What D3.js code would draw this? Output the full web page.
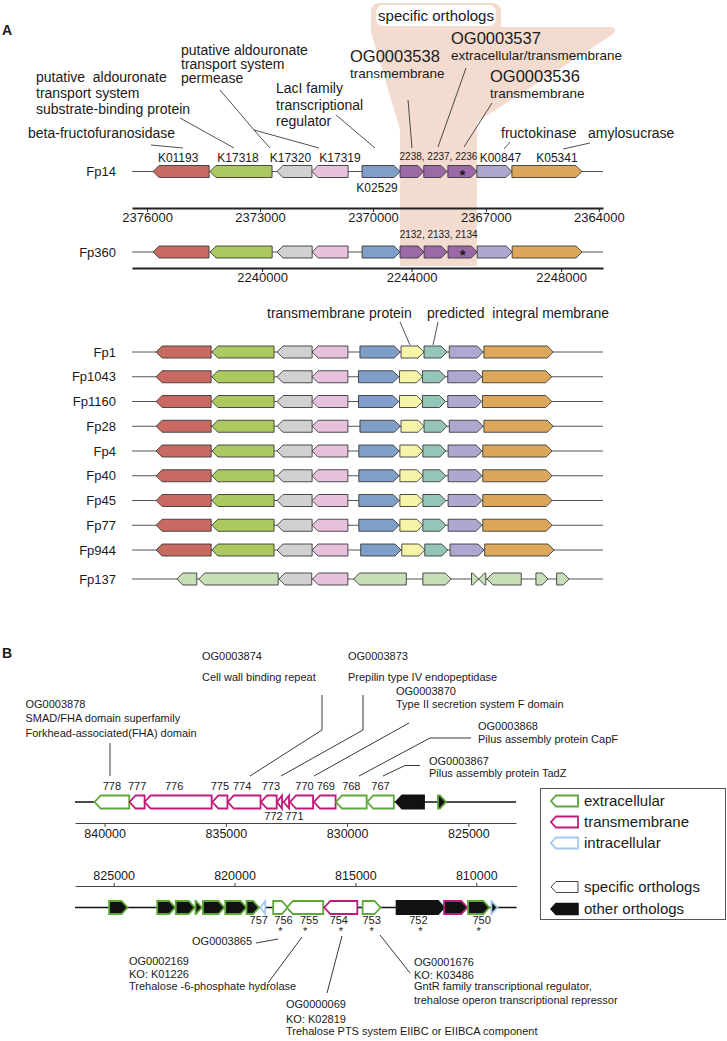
<!DOCTYPE html>
<html>
<head>
<meta charset="utf-8">
<title>Gene neighbourhoods</title>
<script src="https://d3js.org/d3.v7.min.js"></script>
<style>
  body { margin: 0; background: #fff; }
  svg text { font-family: "Liberation Sans", Arial, Helvetica, sans-serif; fill: #1a1a1a; }
</style>
</head>
<body>
<div id="chart"></div>
<script>
// ---------------- Panel A data ----------------
// conserved cluster, left to right on screen; dir -1 = arrow points left
const familiesA = ["K01193", "K17318", "K17320", "K17319", "K02529", "OG0003538", "OG0003537", "OG0003536", "K00847", "K05341"];
const dirA = [-1, -1, -1, -1, 1, 1, 1, 1, 1, 1];

const fp14Extent = [2376400, 2363890];
const fp14Ticks = [2376000, 2373000, 2370000, 2367000, 2364000];
const fp14Start = [2375840, 2374330, 2372550, 2371620, 2370290, 2369280, 2368650, 2368010, 2367240, 2366310];
const fp14End   = [2374350, 2372680, 2371620, 2370660, 2369280, 2368650, 2368035, 2367240, 2366310, 2364450];
const fp14Ids   = ["2238", "2237", "2236"];

const fp360Extent = [2236520, 2249120];
const fp360Ticks = [2240000, 2244000, 2248000];
const fp360Start = [2237085, 2238610, 2240400, 2241340, 2242675, 2243690, 2244335, 2244975, 2245755, 2246690];
const fp360End   = [2238580, 2240270, 2241340, 2242300, 2243690, 2244335, 2244950, 2245755, 2246690, 2248560];
const fp360Ids   = ["2132", "2133", "2134"];

// other strains, relative position in kb (no axis drawn)
const strainsA = ["Fp1", "Fp1043", "Fp1160", "Fp28", "Fp4", "Fp40", "Fp45", "Fp77", "Fp944"];
const familiesC = ["K01193", "K17318", "K17320", "K17319", "K02529", "TMP", "PIM", "K00847", "K05341"];
const dirC = [-1, -1, -1, -1, 1, 1, 1, 1, 1];
const clusterStartKb = [0.64, 2.12, 3.85, 4.78, 6.05, 7.14, 7.75, 8.42, 9.34];
const clusterEndKb   = [2.10, 3.77, 4.78, 5.73, 7.12, 7.75, 8.36, 9.32, 11.18];
const rightShiftKb   = [0, -0.04, -0.04, 0, -0.03, -0.03, -0.03, -0.03, 0.02];

const fp137Families = ["other", "other", "K17320", "K17319", "other", "other", "other", "other", "other", "other", "other"];
const fp137Dir      = [-1, -1, -1, -1, -1, 1, 1, -1, -1, 1, 1];
const fp137StartKb  = [1.19, 1.77, 3.90, 4.79, 5.88, 7.72, 9.01, 9.20, 9.42, 10.72, 11.27];
const fp137EndKb    = [1.72, 3.88, 4.77, 5.73, 7.28, 8.47, 9.20, 9.39, 10.33, 11.04, 11.60];

// ---------------- Panel B data ----------------
const b1Extent = [841220, 823037];
const b1Ticks = [840000, 835000, 830000, 825000];
const b1Ids   = ["778", "777", "776", "775", "774", "773", "772", "771", "770", "769", "768", "767", "", ""];
const b1Start = [840410, 838970, 838350, 835555, 834920, 833550, 832890, 832610, 832355, 831365, 830460, 829170, 827985, 826255];
const b1End   = [838985, 838350, 835585, 834935, 833570, 832905, 832685, 832395, 831405, 830475, 829195, 828075, 826830, 825925];
const b1Dir   = [-1, -1, -1, -1, -1, -1, -1, -1, -1, -1, -1, -1, -1, 1];
const b1Loc   = ["extra", "trans", "trans", "trans", "trans", "trans", "trans", "trans", "trans", "trans", "extra", "extra", "none", "extra"];
const b1Orth  = ["specific", "specific", "specific", "specific", "specific", "specific", "specific", "specific", "specific", "specific", "specific", "specific", "other", "other"];

const b2Extent = [826600, 808330];
const b2Ticks = [825000, 820000, 815000, 810000];
const b2Ids   = ["", "", "", "", "", "", "", "757", "756", "755", "754", "753", "752", "", "750", ""];
const b2Start = [825190, 823200, 822430, 821615, 821305, 820385, 819505, 818935, 818400, 817830, 816285, 814700, 813295, 811330, 810340, 809375];
const b2End   = [824425, 822455, 821645, 821350, 820420, 819505, 818985, 818730, 817800, 816330, 814920, 813960, 811330, 810370, 809460, 809125];
const b2Dir   = [1, 1, 1, 1, 1, 1, 1, -1, 1, -1, -1, 1, 1, 1, 1, 1];
const b2Loc   = ["extra", "extra", "extra", "extra", "extra", "extra", "extra", "intra", "extra", "extra", "trans", "extra", "none", "trans", "extra", "intra"];
const b2Orth  = ["other", "other", "other", "other", "other", "other", "other", "specific", "specific", "specific", "specific", "specific", "other", "other", "other", "other"];
const b2Star  = [0, 0, 0, 0, 0, 0, 0, 0, 1, 1, 1, 1, 1, 0, 1, 0];

const legendLoc = ["extracellular", "transmembrane", "intracellular"];
const legendOrth = ["specific orthologs", "other orthologs"];

// ---------------- colours ----------------
const colorA = d3.scaleOrdinal()
    .domain(["K01193", "K17318", "K17320", "K17319", "K02529", "OG0003538", "OG0003537", "OG0003536", "K00847", "K05341", "TMP", "PIM", "other"])
    .range(["#c96a62", "#abc95f", "#d1d1d1", "#e6c0dd", "#7f9ec8", "#9b69a6", "#9b69a6", "#9b69a6", "#aea8d0", "#dda75b", "#f6f4a8", "#95c4b8", "#c7dfb6"]);
const locColor = d3.scaleOrdinal()
    .domain(["extra", "trans", "intra", "none"])
    .range(["#5ea83a", "#c2187a", "#a6c8ee", "#111111"]);

// ---------------- canvas ----------------
const svg = d3.select("#chart").append("svg")
    .attr("width", 727)
    .attr("height", 1041);

function genePath(xa, xb, dir, yc, h, head) {
    const x0 = Math.min(xa, xb), x1 = Math.max(xa, xb);
    const hl = Math.min(head, x1 - x0);
    const t = yc - h / 2, b = yc + h / 2;
    if (dir > 0) return `M${x0},${t}L${x1 - hl},${t}L${x1},${yc}L${x1 - hl},${b}L${x0},${b}Z`;
    return `M${x1},${t}L${x0 + hl},${t}L${x0},${yc}L${x0 + hl},${b}L${x1},${b}Z`;
}

function addText(g, str, x, y, size, anchor) {
    return g.append("text")
        .attr("x", x).attr("y", y)
        .attr("font-size", size)
        .attr("text-anchor", anchor || "start")
        .style("white-space", "pre")
        .text(str);
}

function leader(g, pts, w) {
    g.append("path")
        .attr("d", d3.line()(pts))
        .attr("fill", "none")
        .attr("stroke", "#222")
        .attr("stroke-width", w || 0.8);
}

// ================= PANEL A =================
const xFp14 = d3.scaleLinear().domain(fp14Extent).range([132, 603]);
const xFp360 = d3.scaleLinear().domain(fp360Extent).range([132, 603]);
const xKb = d3.scaleLinear().domain([0, 12.5]).range([132, 603]);
const fp14Y = 171.5, fp360Y = 252;
const rowY = d3.scalePoint().domain(strainsA).range([352, 550]);
const fp137Y = 579;
const geneH = 12, headA = 6;

const gA = svg.append("g");

// highlighted "specific orthologs" region
const bandL = xFp14(fp14Start[5]), bandR = xFp14(fp14End[7]);
gA.append("path")
    .attr("d", `M371,12Q371,3 380,3L492,3Q501,3 501,12L501,27L608,27Q620,27 612,35L${bandR},122L${bandR},266L${bandL},266L${bandL},130L371,32Z`)
    .attr("fill", "#f3dccf");
gA.append("rect")
    .attr("x", 376).attr("y", 5).attr("width", 120).attr("height", 21)
    .attr("rx", 7).attr("fill", "#fff");
addText(gA, "specific orthologs", 436, 21, 15, "middle");

addText(gA, "A", 2, 35, 14).attr("font-weight", "bold");

// descriptive annotations for Fp14
const notesA = [
    { lines: ["beta-fructofuranosidase"], x: 28, ys: [138], size: 14, paths: [[[151, 145], [183, 148]]] },
    { lines: ["putative  aldouronate", "transport system", "substrate-binding protein"], x: 36, ys: [82, 98, 114], size: 14, paths: [[[180, 118], [234, 148]]] },
    { lines: ["putative aldouronate", "transport system", "permease"], x: 181, ys: [55, 69, 83], size: 14, paths: [[[220, 90], [254, 130], [270, 148]], [[254, 130], [319, 148]]] },
    { lines: ["LacI family", "transcriptional", "regulator"], x: 276, ys: [93, 110, 126], size: 14, paths: [[[336, 115], [375, 148]]] },
    { lines: ["fructokinase"], x: 501, ys: [138], size: 14, paths: [[[510, 142], [504, 149]]] },
    { lines: ["amylosucrase"], x: 588, ys: [138], size: 14, paths: [[[590, 143], [563, 149]]] },
    { lines: ["extracellular/transmembrane"], x: 451, ys: [60], size: 13.5, paths: [[[466, 68], [438, 147]]] },
    { lines: ["transmembrane"], x: 350, ys: [78], size: 13.5, paths: [[[408, 100], [412, 148]]] },
    { lines: ["transmembrane"], x: 490, ys: [98], size: 13.5, paths: [[[492, 103], [464, 147]]] }
];
notesA.forEach(n => {
    n.lines.forEach((l, i) => addText(gA, l, n.x, n.ys[i], n.size));
    n.paths.forEach(p => leader(gA, p));
});
addText(gA, "OG0003537", 451, 44, 16.5);
addText(gA, "OG0003538", 350, 62, 16.5);
addText(gA, "OG0003536", 490, 82, 16.5);

// Fp14 K numbers (label nudges avoid overlaps)
const tagNudge = [-3, -3, -4, 10, -4, 0, 0, 0, 6, 10];
[0, 1, 2, 3, 8, 9].forEach(i => {
    const cx = (xFp14(fp14Start[i]) + xFp14(fp14End[i])) / 2 + tagNudge[i];
    addText(gA, familiesA[i], cx, 162, 12, "middle");
});
addText(gA, familiesA[4], (xFp14(fp14Start[4]) + xFp14(fp14End[4])) / 2 + tagNudge[4], 192, 12, "middle");

const ogMid14 = (xFp14(fp14Start[5]) + xFp14(fp14End[7])) / 2;
addText(gA, fp14Ids.join(", "), ogMid14, 160, 10, "middle");
const ogMid360 = (xFp360(fp360Start[5]) + xFp360(fp360End[7])) / 2;
addText(gA, fp360Ids.join(", "), ogMid360, 238, 10, "middle");

function drawRow(g, label, y, xs, x0s, x1s, dirs, fams, span) {
    addText(g, label, 116, y + 4.5, 13, "end");
    g.append("line")
        .attr("x1", span[0]).attr("x2", span[1])
        .attr("y1", y).attr("y2", y)
        .attr("stroke", "#555").attr("stroke-width", 1);
    g.append("g").selectAll("path")
        .data(x0s.map((s, i) => ({ s: s, e: x1s[i], dir: dirs[i], fam: fams[i] })))
        .enter().append("path")
        .attr("d", d => genePath(xs(d.s), xs(d.e), d.dir, y, geneH, headA))
        .attr("fill", d => colorA(d.fam))
        .attr("stroke", "#3a3a3a")
        .attr("stroke-width", 0.9)
        .attr("stroke-linejoin", "round");
}

function drawAxisA(g, scale, ticks, y) {
    const ax = g.append("g")
        .attr("transform", `translate(0,${y})`)
        .call(d3.axisBottom(scale).tickValues(ticks).tickFormat(d3.format("d")).tickSize(4).tickSizeOuter(0));
    ax.select(".domain").attr("stroke", "#222").attr("stroke-width", 1.8);
    ax.selectAll(".tick line").attr("stroke", "#222");
    ax.selectAll(".tick text")
        .attr("y", 5)
        .attr("font-size", 13)
        .attr("font-family", "Liberation Sans, Arial, sans-serif")
        .attr("fill", "#1a1a1a");
}

drawRow(gA, "Fp14", fp14Y, xFp14, fp14Start, fp14End, dirA, familiesA, xFp14.range());
drawAxisA(gA, xFp14, fp14Ticks, 208);
drawRow(gA, "Fp360", fp360Y, xFp360, fp360Start, fp360End, dirA, familiesA, xFp360.range());
drawAxisA(gA, xFp360, fp360Ticks, 268);

// asterisk on the transmembrane OG0003536 gene
addText(gA, "*", (xFp14(fp14Start[7]) + xFp14(fp14End[7])) / 2, fp14Y + 8, 15, "middle").attr("font-weight", "bold");
addText(gA, "*", (xFp360(fp360Start[7]) + xFp360(fp360End[7])) / 2, fp360Y + 8, 15, "middle").attr("font-weight", "bold");

// annotation above Fp1
addText(gA, "transmembrane protein", 267, 318, 14);
addText(gA, "predicted  integral membrane", 427, 318, 14);
leader(gA, [[400, 322], [410, 345]]);
leader(gA, [[438, 322], [433, 345]]);

strainsA.forEach((s, k) => {
    const starts = clusterStartKb.map((v, i) => i >= 4 ? v + rightShiftKb[k] : v);
    const ends = clusterEndKb.map((v, i) => i >= 4 ? v + rightShiftKb[k] : v);
    drawRow(gA, s, rowY(s), xKb, starts, ends, dirC, familiesC, xKb.range());
});
drawRow(gA, "Fp137", fp137Y, xKb, fp137StartKb, fp137EndKb, fp137Dir, fp137Families, xKb.range());

// ================= PANEL B =================
const gB = svg.append("g");
const xB1 = d3.scaleLinear().domain(b1Extent).range([75, 516]);
const xB2 = d3.scaleLinear().domain(b2Extent).range([75, 516.6]);
const b1Y = 802, b2Y = 907.5, geneHB = 13, headB = 6;

addText(gB, "B", 2, 658, 14).attr("font-weight", "bold");

const notesB = [
    { lines: ["OG0003878", "SMAD/FHA domain superfamily", "Forkhead-associated(FHA) domain"], x: 25.5, ys: [708, 722, 737], path: [[110, 743], [110, 776]] },
    { lines: ["OG0003874", "Cell wall binding repeat"], x: 202, ys: [660, 681], path: [[322, 695], [322, 730], [250, 776]] },
    { lines: ["OG0003873", "Prepilin type IV endopeptidase"], x: 348, ys: [660, 681], path: [[363, 695], [363, 730], [281, 776]] },
    { lines: ["OG0003870", "Type II secretion system F domain"], x: 396, ys: [695, 708], path: [[409, 723], [314, 776]] },
    { lines: ["OG0003868", "Pilus assembly protein CapF"], x: 478, ys: [730, 743], path: [[471, 738], [430, 738], [359, 776]] },
    { lines: ["OG0003867", "Pilus assembly protein TadZ"], x: 429, ys: [765, 777], path: [[420, 765.5], [405, 765.5], [383, 776]] },
    { lines: ["OG0002169", "KO: K01226", "Trehalose -6-phosphate hydrolase"], x: 129, ys: [965, 978, 990], path: [[302, 937], [268, 983]] },
    { lines: ["OG0000069", "KO: K02819", "Trehalose PTS system EIIBC or EIIBCA component"], x: 286, ys: [1008, 1023, 1035], path: [[342, 936], [327, 993]] },
    { lines: ["OG0001676", "KO: K03486", "GntR family transcriptional regulator,", "trehalose operon transcriptional repressor"], x: 414, ys: [966, 979, 990, 1004], path: [[380, 935], [410, 973]] }
];
notesB.forEach(n => {
    n.lines.forEach((l, i) => addText(gB, l, n.x, n.ys[i], 11));
    leader(gB, n.path, 0.9);
});
addText(gB, "OG0003865", 252, 945, 11, "end");
leader(gB, [[256, 943], [278, 939]], 0.9);

function drawTrack(g, xs, y, starts, ends, dirs, locs, orths, span) {
    g.append("line")
        .attr("x1", span[0]).attr("x2", span[1])
        .attr("y1", y).attr("y2", y)
        .attr("stroke", "#111").attr("stroke-width", 1.4);
    g.append("g").selectAll("path")
        .data(starts.map((s, i) => ({ s: s, e: ends[i], dir: dirs[i], loc: locs[i], orth: orths[i] })))
        .enter().append("path")
        .attr("d", d => genePath(xs(d.s), xs(d.e), d.dir, y, geneHB, headB))
        .attr("fill", d => d.orth === "other" ? "#111" : "#fff")
        .attr("stroke", d => locColor(d.loc))
        .attr("stroke-width", 1.8)
        .attr("stroke-linejoin", "miter");
}

function styleAxisB(ax) {
    ax.select(".domain").attr("stroke", "#444").attr("stroke-width", 1);
    ax.selectAll(".tick line").attr("stroke", "#444");
    ax.selectAll(".tick text")
        .attr("font-size", 12.5)
        .attr("font-family", "Liberation Sans, Arial, sans-serif")
        .attr("fill", "#1a1a1a");
}

// track 1
drawTrack(gB, xB1, b1Y, b1Start, b1End, b1Dir, b1Loc, b1Orth, xB1.range());
const ax1 = gB.append("g").attr("transform", "translate(0,823)")
    .call(d3.axisBottom(xB1).tickValues(b1Ticks).tickFormat(d3.format("d")).tickSize(4).tickSizeOuter(0));
styleAxisB(ax1);
ax1.selectAll(".tick text").attr("y", 6);

const labelNudge1 = { "776": -4, "772": -6, "771": 8, "770": 3, "769": 1, "774": -2, "773": 2 };
b1Ids.forEach((id, i) => {
    if (!id) return;
    const cx = (xB1(b1Start[i]) + xB1(b1End[i])) / 2 + (labelNudge1[id] || 0);
    const below = id === "772" || id === "771";
    addText(gB, id, cx, below ? 820 : 790, 11, "middle");
});

// track 2
const ax2 = gB.append("g").attr("transform", "translate(0,886)")
    .call(d3.axisTop(xB2).tickValues(b2Ticks).tickFormat(d3.format("d")).tickSize(3).tickSizeOuter(0));
styleAxisB(ax2);
drawTrack(gB, xB2, b2Y, b2Start, b2End, b2Dir, b2Loc, b2Orth, xB2.range());

const labelNudge2 = { "757": -4, "756": 3, "755": 4, "754": -2, "752": -2, "750": 3 };
b2Ids.forEach((id, i) => {
    const cx = (xB2(b2Start[i]) + xB2(b2End[i])) / 2;
    if (id) addText(gB, id, cx + (labelNudge2[id] || 0), 924, 11, "middle");
    if (b2Star[i]) addText(gB, "*", cx, 935, 11, "middle");
});

// legend
const lg = gB.append("g");
lg.append("rect")
    .attr("x", 540.5).attr("y", 788.5).attr("width", 185).attr("height", 131)
    .attr("fill", "#fff").attr("stroke", "#555").attr("stroke-width", 1);
const legY = d3.scaleOrdinal().domain(legendLoc.concat(legendOrth)).range([801, 822, 843, 887, 909]);
const legLocKey = { extracellular: "extra", transmembrane: "trans", intracellular: "intra" };
legendLoc.forEach(l => {
    lg.append("path")
        .attr("d", genePath(551, 578, -1, legY(l), 11, 5))
        .attr("fill", "#fff")
        .attr("stroke", locColor(legLocKey[l]))
        .attr("stroke-width", 1.8);
    addText(lg, l, 584, legY(l) + 5, 15);
});
legendOrth.forEach(l => {
    const other = l === "other orthologs";
    lg.append("path")
        .attr("d", genePath(551, 578, -1, legY(l), 11, 5))
        .attr("fill", other ? "#111" : "#fff")
        .attr("stroke", other ? "#111" : "#444")
        .attr("stroke-width", other ? 1.5 : 1);
    addText(lg, l, 584, legY(l) + 5, 15);
});
</script>
</body>
</html>
